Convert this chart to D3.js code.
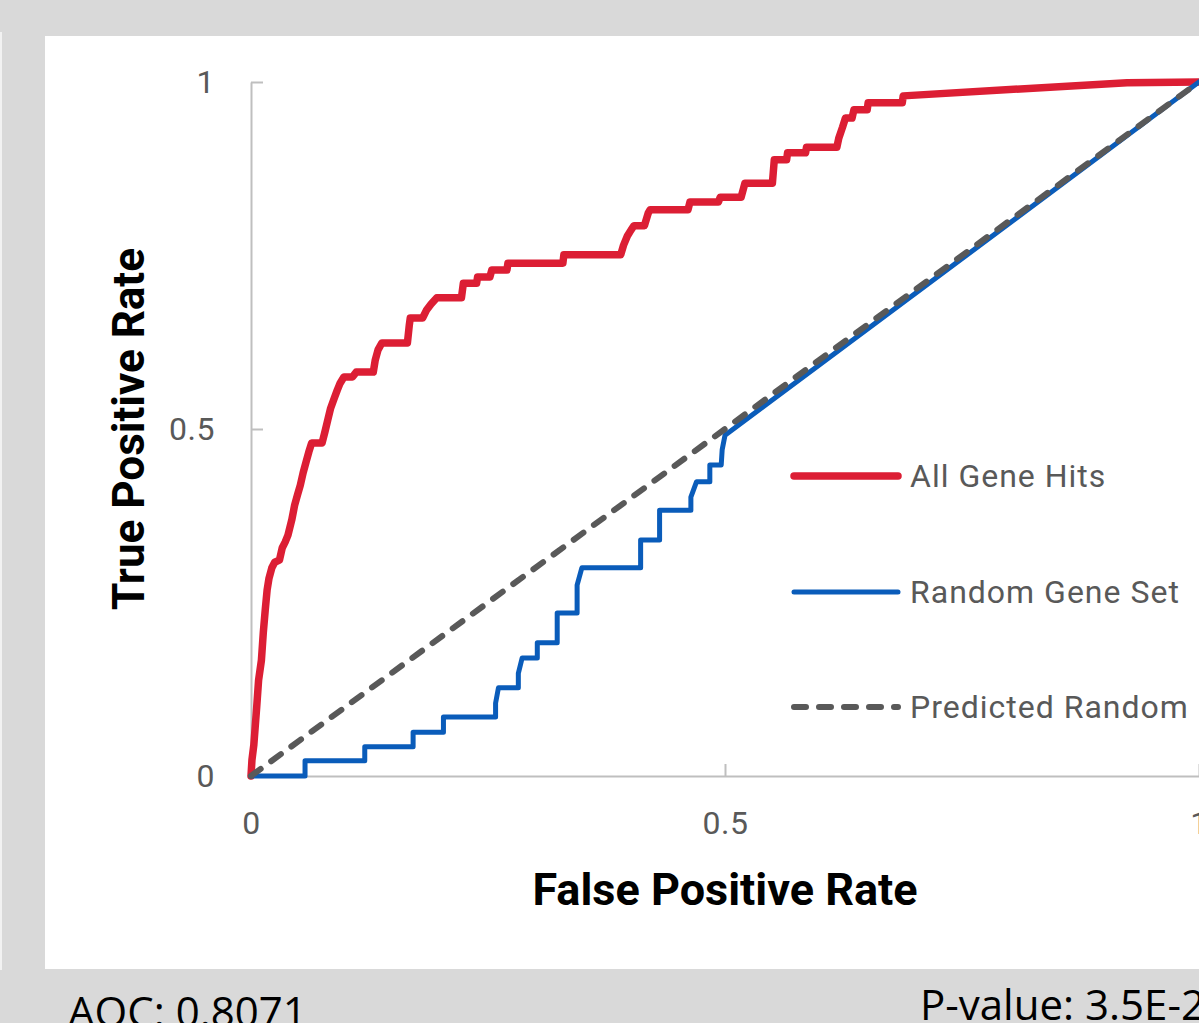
<!DOCTYPE html>
<html>
<head>
<meta charset="utf-8">
<script src="https://cdn.jsdelivr.net/npm/d3@7"></script>
<style>
  body { margin: 0; background: #d9d9d9; }
  svg { display: block; }
</style>
</head>
<body>
<div id="chart"></div>
<script>
// ROC curve points (false positive rate, true positive rate)
var hitsFpr = [0, 0.001, 0.003, 0.005, 0.006, 0.008, 0.011, 0.013, 0.015, 0.017, 0.019, 0.022, 0.025, 0.030,
  0.033, 0.036, 0.039, 0.043, 0.046, 0.049, 0.052, 0.055, 0.058, 0.061, 0.064, 0.075, 0.078, 0.081, 0.084,
  0.088, 0.091, 0.094, 0.098, 0.107, 0.111, 0.129, 0.131, 0.134, 0.138, 0.165, 0.167, 0.168, 0.181, 0.185,
  0.190, 0.196, 0.222, 0.224, 0.238, 0.239, 0.252, 0.254, 0.270, 0.271, 0.329, 0.330, 0.390, 0.393, 0.397,
  0.401, 0.404, 0.415, 0.419, 0.421, 0.461, 0.463, 0.493, 0.495, 0.517, 0.521, 0.550, 0.552, 0.565, 0.566,
  0.585, 0.586, 0.618, 0.620, 0.624, 0.627, 0.634, 0.636, 0.650, 0.651, 0.687, 0.688, 0.924, 1];
var hitsTpr = [0, 0.023, 0.045, 0.081, 0.099, 0.138, 0.167, 0.207, 0.239, 0.268, 0.285, 0.300, 0.308, 0.311,
  0.329, 0.337, 0.347, 0.369, 0.390, 0.405, 0.419, 0.437, 0.452, 0.467, 0.480, 0.480, 0.496, 0.513, 0.530,
  0.545, 0.556, 0.566, 0.575, 0.575, 0.582, 0.582, 0.599, 0.614, 0.624, 0.624, 0.650, 0.660, 0.660, 0.671,
  0.680, 0.689, 0.689, 0.710, 0.710, 0.719, 0.719, 0.729, 0.729, 0.739, 0.739, 0.751, 0.751, 0.765, 0.778,
  0.787, 0.793, 0.793, 0.811, 0.816, 0.816, 0.827, 0.827, 0.834, 0.834, 0.854, 0.854, 0.888, 0.888, 0.898,
  0.898, 0.906, 0.906, 0.919, 0.935, 0.948, 0.948, 0.960, 0.960, 0.970, 0.970, 0.980, 0.999, 1];

var randFpr = [0, 0.057, 0.057, 0.120, 0.120, 0.171, 0.171, 0.203, 0.203, 0.258, 0.258, 0.261, 0.282, 0.282,
  0.286, 0.302, 0.302, 0.323, 0.323, 0.344, 0.344, 0.349, 0.411, 0.411, 0.431, 0.431, 0.464, 0.464, 0.470,
  0.484, 0.484, 0.496, 0.497, 0.500, 1];
var randTpr = [0, 0, 0.022, 0.022, 0.042, 0.042, 0.063, 0.063, 0.085, 0.085, 0.105, 0.127, 0.127, 0.148,
  0.170, 0.170, 0.192, 0.192, 0.235, 0.235, 0.275, 0.300, 0.300, 0.340, 0.340, 0.383, 0.383, 0.402, 0.424,
  0.424, 0.448, 0.448, 0.470, 0.491, 1];

var predFpr = [0, 1];
var predTpr = [0, 1];

var seriesNames = ["All Gene Hits", "Random Gene Set", "Predicted Random"];
var tickValues = [0, 0.5, 1];
var aocText = "AOC: 0.8071";
var pText = "P-value: 3.5E-22";

var W = 1199, H = 1023;
var svg = d3.select("#chart").append("svg")
  .attr("width", W)
  .attr("height", H);

// background and white chart panel
svg.append("rect").attr("width", W).attr("height", H).attr("fill", "#d9d9d9");
svg.append("rect").attr("x", 0).attr("y", 32).attr("width", 2).attr("height", 938).attr("fill", "#f2f2f2");
svg.append("rect").attr("x", 45).attr("y", 36).attr("width", W - 45).attr("height", 933).attr("fill", "#fff");

var x = d3.scaleLinear().domain([0, 1]).range([251, 1199]);
var y = d3.scaleLinear().domain([0, 1]).range([776, 82]);

var tickFont = "Roboto, 'Open Sans', sans-serif";

// axes
var yAxis = svg.append("g")
  .attr("transform", "translate(" + x(0) + ",0)")
  .call(d3.axisLeft(y).tickValues(tickValues).tickFormat(d3.format("~g"))
    .tickSizeInner(-12).tickSizeOuter(0).tickPadding(36));

var xAxis = svg.append("g")
  .attr("transform", "translate(0," + y(0) + ")")
  .call(d3.axisBottom(x).tickValues(tickValues).tickFormat(d3.format("~g"))
    .tickSizeInner(-12).tickSizeOuter(0).tickPadding(35));

[xAxis, yAxis].forEach(function(g) {
  g.select(".domain").attr("stroke", "#bfbfbf").attr("stroke-width", 2);
  g.selectAll(".tick line").attr("stroke", "#bfbfbf").attr("stroke-width", 2);
  g.selectAll(".tick text")
    .attr("fill", "#595959")
    .style("font-family", tickFont)
    .style("font-size", "32px")
    .style("letter-spacing", "0.5px");
});

// axis titles
svg.append("text")
  .attr("x", 725).attr("y", 905)
  .attr("text-anchor", "middle")
  .style("font-family", tickFont)
  .style("font-weight", "bold")
  .style("font-size", "45px")
  .attr("fill", "#000")
  .text("False Positive Rate");

svg.append("text")
  .attr("transform", "translate(144,429) rotate(-90)")
  .attr("text-anchor", "middle")
  .style("font-family", tickFont)
  .style("font-weight", "bold")
  .style("font-size", "44px")
  .attr("fill", "#000")
  .text("True Positive Rate");

// lines
var line = d3.line()
  .x(function(d) { return x(d[0]); })
  .y(function(d) { return y(d[1]); });

var series = [
  { name: seriesNames[0], pts: d3.zip(hitsFpr, hitsTpr), color: "#dc1e34", width: 7.5, dash: null },
  { name: seriesNames[1], pts: d3.zip(randFpr, randTpr), color: "#0a5cba", width: 5, dash: null },
  { name: seriesNames[2], pts: d3.zip(predFpr, predTpr), color: "#595959", width: 6, dash: "12 13" }
];

svg.selectAll("path.series")
  .data(series)
  .enter()
  .append("path")
  .attr("class", "series")
  .attr("fill", "none")
  .attr("stroke", function(d) { return d.color; })
  .attr("stroke-width", function(d) { return d.width; })
  .attr("stroke-linejoin", "round")
  .attr("stroke-linecap", "round")
  .attr("stroke-dasharray", function(d) { return d.dash; })
  .attr("d", function(d) { return line(d.pts); });

// legend
var legendY = [476, 592, 707];
var legend = svg.selectAll("g.legend")
  .data(series)
  .enter()
  .append("g")
  .attr("class", "legend")
  .attr("transform", function(d, i) { return "translate(0," + legendY[i] + ")"; });

legend.append("line")
  .attr("x1", 794).attr("x2", 898)
  .attr("stroke", function(d) { return d.color; })
  .attr("stroke-width", function(d) { return d.width; })
  .attr("stroke-linecap", "round")
  .attr("stroke-dasharray", function(d) { return d.dash; });

legend.append("text")
  .attr("x", 910)
  .attr("dy", "0.35em")
  .attr("fill", "#595959")
  .style("font-family", tickFont)
  .style("font-size", "32px")
  .style("letter-spacing", "1px")
  .text(function(d) { return d.name; });

// stats under the chart
svg.append("text")
  .attr("x", 68).attr("y", 1027)
  .style("font-family", "'Open Sans', sans-serif")
  .style("font-size", "42px")
  .attr("fill", "#000")
  .text(aocText);

svg.append("text")
  .attr("x", 920).attr("y", 1020)
  .style("font-family", "'Open Sans', sans-serif")
  .style("font-size", "42px")
  .attr("fill", "#000")
  .text(pText);
</script>
</body>
</html>
